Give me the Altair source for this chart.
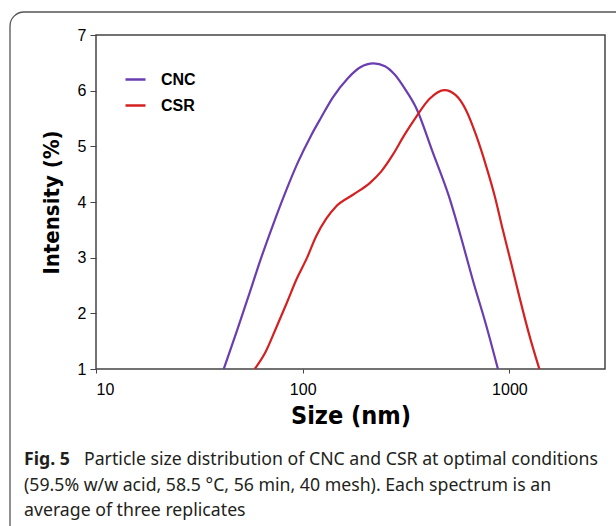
import altair as alt
import pandas as pd

# ---- data ----
cnc_size = [41.5, 48, 55.5, 63, 72, 82, 95, 110, 122, 140, 165, 190, 220, 250, 280, 310, 355, 425, 510, 590, 665, 770, 880]
cnc_int = [1.0, 1.68, 2.38, 3.0, 3.6, 4.15, 4.72, 5.2, 5.5, 5.88, 6.22, 6.42, 6.49, 6.44, 6.28, 6.05, 5.68, 4.9, 4.1, 3.3, 2.6, 1.8, 1.0]
csr_size = [58.6, 66, 74.6, 84, 93, 105, 116, 130, 145, 175, 211, 240, 273, 310, 354, 410, 485, 550, 617, 690, 771, 850, 929, 1020, 1117, 1250, 1396]
csr_int = [1.0, 1.3, 1.75, 2.2, 2.6, 3.0, 3.38, 3.7, 3.92, 4.13, 4.34, 4.55, 4.85, 5.2, 5.53, 5.85, 6.01, 5.92, 5.65, 5.2, 4.65, 4.1, 3.5, 2.9, 2.3, 1.6, 1.0]
series_names = ["CNC", "CSR"]
series_colors = ["#6a3db0", "#d42020"]
x_ticks = [10, 100, 1000]
y_ticks = [1, 2, 3, 4, 5, 6, 7]
x_title = "Size (nm)"
y_title = "Intensity (%)"
caption_bold = "Fig. 5"
caption_lines = [
    "Particle size distribution of CNC and CSR at optimal conditions",
    "(59.5% w/w acid, 58.5 \u00b0C, 56 min, 40 mesh). Each spectrum is an",
    "average of three replicates",
]

df = pd.concat([
    pd.DataFrame({"size": cnc_size, "intensity": cnc_int, "sample": series_names[0]}),
    pd.DataFrame({"size": csr_size, "intensity": csr_int, "sample": series_names[1]}),
])

W, H = 509, 334
LEFT, TOP = 96, 35
narrow = "DejaVu Sans Condensed, Liberation Sans Narrow, Liberation Sans"

lines = alt.Chart(df).mark_line(interpolate="monotone", strokeWidth=2.2, clip=True).encode(
    x=alt.X("size:Q",
            scale=alt.Scale(type="log", domain=[10, 2900]),
            axis=alt.Axis(values=x_ticks, title=x_title, format="d", grid=False,
                          labelFontSize=16, labelFont="Liberation Sans", labelColor="#000",
                          labelPadding=8, tickSize=4, tickColor="#444", domain=False,
                          titleFont=narrow, titleFontSize=25, titleFontWeight="bold",
                          titleColor="#000", titlePadding=6)),
    y=alt.Y("intensity:Q",
            scale=alt.Scale(domain=[1, 7]),
            axis=alt.Axis(values=y_ticks, title=y_title, grid=False,
                          labelFontSize=16, labelFont="Liberation Sans", labelColor="#000",
                          labelPadding=4, tickSize=6, tickColor="#444", domain=False,
                          titleFont=narrow, titleFontSize=22, titleFontWeight="bold",
                          titleColor="#000", titlePadding=14)),
    color=alt.Color("sample:N",
                    scale=alt.Scale(domain=series_names, range=series_colors),
                    legend=alt.Legend(title=None, orient="none", legendX=28, legendY=33,
                                      symbolType="stroke", symbolSize=400, symbolStrokeWidth=2.5,
                                      labelFontSize=16, labelFontWeight="bold",
                                      labelFont="Liberation Sans", labelColor="#000",
                                      labelOffset=14, rowPadding=6)),
)

one = pd.DataFrame({"a": [0]})
frame = alt.Chart(one).mark_rect(fill=None, stroke="#555", strokeWidth=1.3, cornerRadius=14).encode(
    x=alt.value(10 - LEFT), x2=alt.value(640 - LEFT),
    y=alt.value(12 - TOP), y2=alt.value(560 - TOP),
)

cap_bold = alt.Chart(one).mark_text(align="left", baseline="alphabetic", font="Noto Sans",
                                    fontSize=17.7, fontWeight="bold", color="#231f20",
                                    text=caption_bold).encode(
    x=alt.value(24 - LEFT), y=alt.value(465 - TOP))

cap_layers = []
cap_x = [84, 24, 24]
cap_y = [465, 491, 516]
for i, t in enumerate(caption_lines):
    cap_layers.append(
        alt.Chart(one).mark_text(align="left", baseline="alphabetic", font="Noto Sans",
                                 fontSize=17.7, color="#231f20", text=t).encode(
            x=alt.value(cap_x[i] - LEFT), y=alt.value(cap_y[i] - TOP)))

chart = alt.layer(frame, lines, cap_bold, *cap_layers).properties(
    width=W, height=H,
    autosize=alt.AutoSizeParams(type="none"),
    padding={"left": LEFT, "top": TOP, "right": 616 - LEFT - W, "bottom": 526 - TOP - H},
    background="white",
).configure_view(stroke="#444", strokeWidth=1.5)

chart.save("out.html", embed_options={"renderer": "svg", "actions": False})
